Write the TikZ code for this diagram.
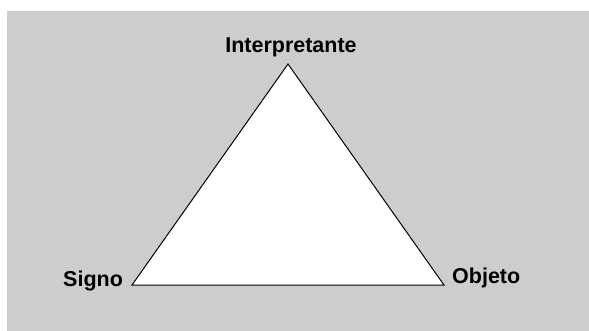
\documentclass[tikz,border=0pt]{standalone}
\usepackage{fontspec}
\setmainfont{Liberation Sans}
\begin{document}
\begin{tikzpicture}[x=1pt,y=-1pt,
  lbl/.style={font=\fontsize{21.5}{25}\selectfont\bfseries, inner sep=0pt},
  tri/.style={draw=black, fill=white, line width=1pt, line join=miter}]
\useasboundingbox (0,0) rectangle (589,331);
\fill[white] (0,0) rectangle (589,331);
\fill[fill={rgb,255:red,205;green,205;blue,205}] (7,11) rectangle (589,331);
\coordinate (T) at (288,64);
\coordinate (L) at (132,285);
\coordinate (R) at (444,285);
\draw[tri] (T) -- (L) -- (R) -- cycle;
\node[lbl, anchor=base] (interp) at (291,53) {Interpretante};
\node[lbl, anchor=base west] (signo) at (63,286) {Signo};
\node[lbl, anchor=base west] (objeto) at (452,283) {Objeto};
\end{tikzpicture}
\end{document}
